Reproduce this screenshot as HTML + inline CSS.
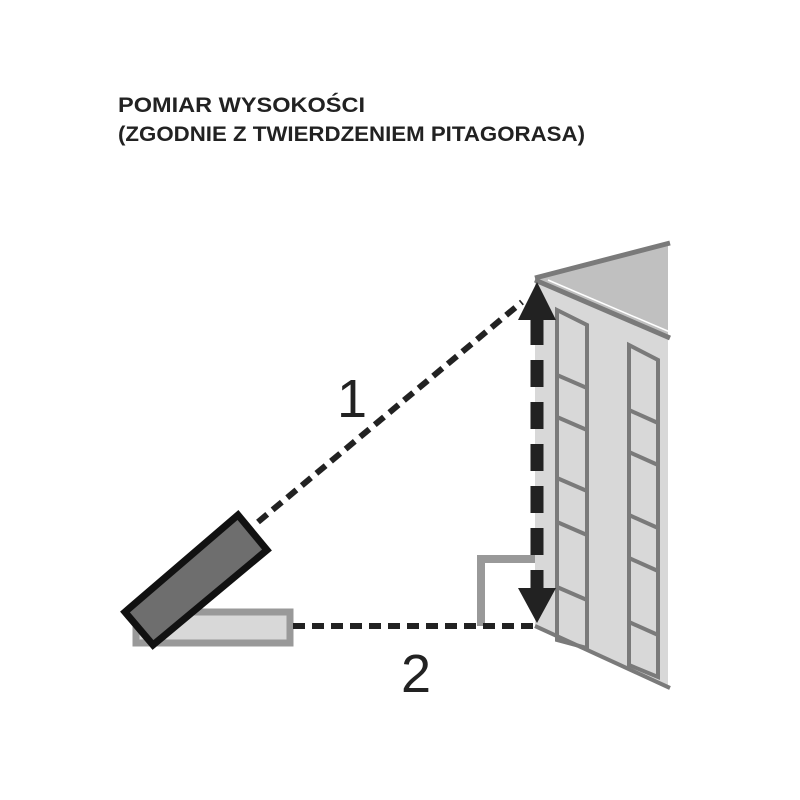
<!DOCTYPE html>
<html><head><meta charset="utf-8"><style>
body{margin:0;background:#fff}
svg{display:block}
</style></head><body>
<svg width="800" height="800" viewBox="0 0 800 800" xmlns="http://www.w3.org/2000/svg">
<text x="118" y="112" font-family="Liberation Sans, sans-serif" font-weight="bold" font-size="21" fill="#222" textLength="247" lengthAdjust="spacingAndGlyphs">POMIAR WYSOKOŚCI</text>
<text x="118" y="141" font-family="Liberation Sans, sans-serif" font-weight="bold" font-size="21" fill="#222" textLength="467" lengthAdjust="spacingAndGlyphs">(ZGODNIE Z TWIERDZENIEM PITAGORASA)</text>
<!-- building -->
<polygon points="535,278 668,335 668,688 535,626" fill="#d8d8d8"/>
<polygon points="535,278 668,244 668,335" fill="#c0c0c0"/>
<line x1="535" y1="278" x2="670" y2="243" stroke="#7a7a7a" stroke-width="5"/>
<line x1="535" y1="280" x2="670" y2="338" stroke="#7a7a7a" stroke-width="5"/>
<line x1="548" y1="280" x2="670" y2="332" stroke="#fff" stroke-width="1.5"/>
<line x1="535" y1="626" x2="670" y2="688" stroke="#7a7a7a" stroke-width="4"/>
<g stroke="#7a7a7a" stroke-width="4" fill="none">
<polygon points="557,310 587,325 587,648 557,640"/>
<line x1="557" y1="375" x2="587" y2="388"/>
<line x1="557" y1="417" x2="587" y2="430"/>
<line x1="557" y1="478" x2="587" y2="491"/>
<line x1="557" y1="522" x2="587" y2="535"/>
<line x1="557" y1="587" x2="587" y2="600"/>
<polygon points="629,345 658,360 658,677 629,665"/>
<line x1="629" y1="410" x2="658" y2="423"/>
<line x1="629" y1="452" x2="658" y2="465"/>
<line x1="629" y1="515" x2="658" y2="528"/>
<line x1="629" y1="558" x2="658" y2="571"/>
<line x1="629" y1="622" x2="658" y2="635"/>
</g>
<!-- right angle -->
<path d="M481,626 V559 H535" fill="none" stroke="#999" stroke-width="8"/>
<!-- devices -->
<rect x="136" y="612" width="154" height="31" fill="#d8d8d8" stroke="#999" stroke-width="7"/>
<polygon points="125,612 238,515 267,550 153,645" fill="#6e6e6e" stroke="#111" stroke-width="7" stroke-linejoin="miter"/>
<!-- dashed lines -->
<line x1="293" y1="626" x2="535" y2="626" stroke="#222" stroke-width="6" stroke-dasharray="12,7"/>
<line x1="258" y1="522" x2="522" y2="302" stroke="#222" stroke-width="6" stroke-dasharray="12,7"/>
<line x1="537" y1="318" x2="537" y2="590" stroke="#222" stroke-width="13" stroke-dasharray="27,15"/>
<polygon points="537,282 518,320 556,320" fill="#222"/>
<polygon points="518,588 556,588 537,623" fill="#222"/>
<text x="352" y="417" text-anchor="middle" font-family="Liberation Sans, sans-serif" font-size="54" fill="#222">1</text>
<text x="416" y="692" text-anchor="middle" font-family="Liberation Sans, sans-serif" font-size="54" fill="#222">2</text>
</svg>
</body></html>
